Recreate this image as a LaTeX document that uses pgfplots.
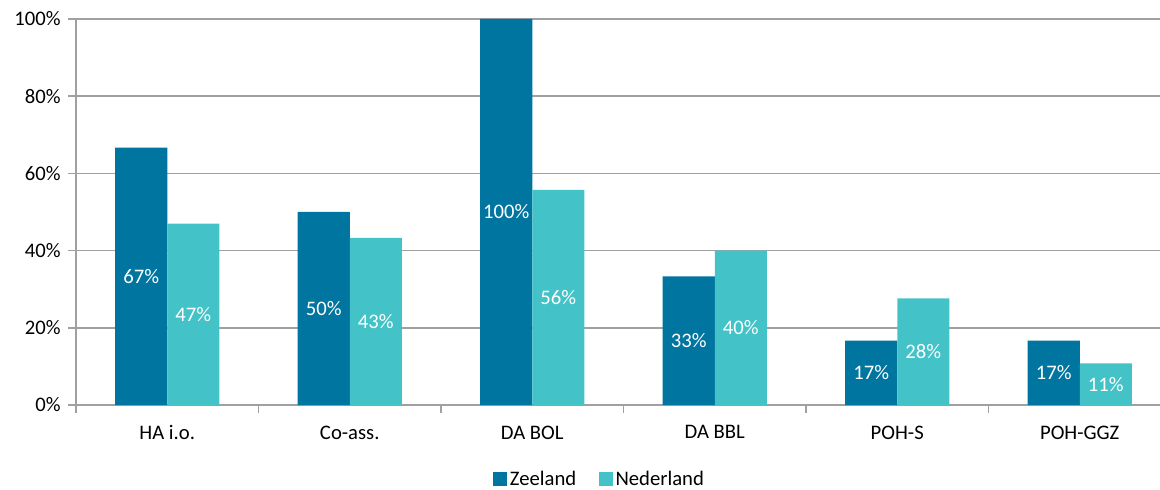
\documentclass[border=0pt]{standalone}
\usepackage{fontspec}
\setmainfont{Carlito}
\usepackage{pgfplots}
\pgfplotsset{compat=1.18}
\definecolor{zeel}{RGB}{0,117,160}
\definecolor{nedl}{RGB}{67,195,200}
\definecolor{gridc}{RGB}{160,160,160}
\begin{document}
\begin{tikzpicture}[font=\fontsize{15.5}{18}\selectfont]
\path[use as bounding box] (-57pt,-63pt) rectangle (813pt,303.75pt);
\begin{axis}[
  scale only axis,
  width=821.25pt, height=289.5pt,
  anchor=south west, at={(0,0)},
  ybar, bar width=0.285,
  xmin=-0.5, xmax=5.5,
  ymin=0, ymax=100,
  axis x line=bottom, axis y line=left,
  axis line style={draw=gridc, line width=1.2pt, -},
  ytick={0,20,40,60,80,100},
  yticklabels={0\%,20\%,40\%,60\%,80\%,100\%},
  xtick={0,1,2,3,4,5},
  xticklabels={HA i.o.,Co-ass.,DA BOL,DA BBL,POH-S,POH-GGZ},
  minor xtick={-0.5,0.5,1.5,2.5,3.5,4.5,5.5},
  tick align=outside,
  major tick length=6pt,
  major x tick style={draw=none},
  minor tick length=6pt,
  tick style={draw=gridc, line width=1.2pt},
  ymajorgrids,
  major grid style={draw=gridc, line width=1.2pt},
  xticklabel style={yshift=-6pt},
  yticklabel style={xshift=-2pt},
  clip=false,
  /pgf/number format/assume math mode=true,
  nodes near coords={\pgfmathprintnumber[fixed,precision=0,assume math mode=true]{\pgfplotspointmeta}\%},
  visualization depends on=rawy \as \rawy,
  every node near coord/.append style={text=white, anchor=center, inner sep=0pt,
     shift={(axis direction cs:0,-\rawy/2)}},
  legend style={at={(0.4785,-0.193)}, anchor=center, draw=none, legend columns=2,
    /tikz/every even column/.append style={column sep=15pt}, font=\fontsize{15.5}{18}\selectfont},
  legend image code/.code={\fill[#1] (0pt,-5.25pt) rectangle (10.5pt,5.25pt);},
]
\addplot[draw=none, fill=zeel, bar shift=-0.1425] coordinates {(0,66.7) (1,50) (2,100) (3,33.3) (4,16.7) (5,16.7)};
\addplot[draw=none, fill=nedl, bar shift=0.1425] coordinates {(0,47) (1,43.3) (2,55.7) (3,40) (4,27.6) (5,10.8)};
\legend{Zeeland,Nederland}
\end{axis}
\end{tikzpicture}
\end{document}
